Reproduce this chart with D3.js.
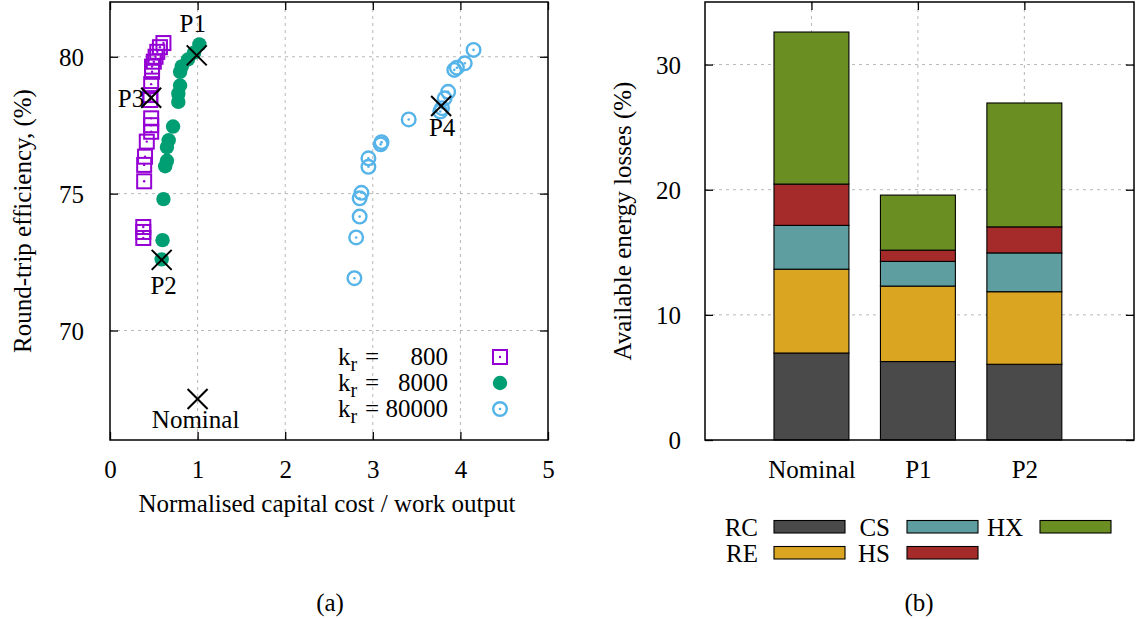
<!DOCTYPE html>
<html><head><meta charset="utf-8">
<script src="https://cdn.jsdelivr.net/npm/d3@7"></script>
<style>
html,body{margin:0;padding:0;background:#fff;}
svg text{font-family:"Liberation Serif","Times New Roman",serif !important;fill:#000;}
</style></head>
<body>
<svg id="fig" width="1138" height="619" font-family="Liberation Serif"></svg>
<script>
// ---------- DATA (a) ----------
const kr800 = [[0.61,80.5],[0.57,80.35],[0.54,80.18],[0.52,80.0],[0.50,79.82],[0.48,79.64],[0.48,79.45],[0.47,79.0],[0.46,78.6],[0.46,78.42],[0.47,77.75],[0.47,77.5],[0.47,77.26],[0.42,76.9],[0.40,76.35],[0.39,76.05],[0.39,75.45],[0.38,73.78],[0.38,73.6],[0.38,73.38]];
const kr8000 = [[1.02,80.45],[0.96,80.15],[0.89,79.9],[0.82,79.65],[0.80,79.45],[0.80,78.95],[0.78,78.65],[0.78,78.35],[0.72,77.45],[0.67,76.95],[0.65,76.7],[0.65,76.2],[0.63,76.0],[0.61,74.8],[0.60,73.3],[0.59,72.6]];
const kr80000 = [[4.15,80.25],[4.05,79.76],[3.96,79.6],[3.93,79.52],[3.86,78.72],[3.82,78.48],[3.79,78.12],[3.77,78.0],[3.41,77.71],[3.10,76.88],[3.09,76.8],[2.95,76.29],[2.95,75.98],[2.87,75.03],[2.85,74.83],[2.85,74.16],[2.81,73.40],[2.79,71.91]];
const special = [
  {name:"P1", x:0.99, y:80.05},
  {name:"P2", x:0.59, y:72.58},
  {name:"P3", x:0.47, y:78.5},
  {name:"P4", x:3.78, y:78.2},
  {name:"Nominal", x:1.0, y:67.5}
];
const xTicksA = [0,1,2,3,4,5];
const yTicksA = [70,75,80];
const legendA = [
  {label:"800", key:"kr800"},
  {label:"8000", key:"kr8000"},
  {label:"80000", key:"kr80000"}
];
const colA = {kr800:"#9400d3", kr8000:"#009e73", kr80000:"#56b4e9"};

// ---------- DATA (b) ----------
const categories = ["Nominal","P1","P2"];
const components = ["RC","RE","CS","HS","HX"];
const RC = [6.95, 6.27, 6.05];
const RE = [6.70, 6.03, 5.80];
const CS = [3.50, 1.97, 3.10];
const HS = [3.30, 0.90, 2.08];
const HX = [12.15, 4.40, 9.90];
const yTicksB = [0,10,20,30];
const colB = {RC:"#4a4a4a", RE:"#daa520", CS:"#5f9ea0", HS:"#a52a2a", HX:"#6b8e23"};

const svg = d3.select("#fig");
const FS = 25;
const SERIF = "Liberation Serif";
const gridStyle = s => s.attr("stroke","#b8b8b8").attr("stroke-width",1).attr("stroke-dasharray","3,4");
const styleAxis = g => {
  g.attr("font-family",SERIF).attr("font-size",FS);
  g.select(".domain").remove();
  g.selectAll("line").attr("stroke","#000").attr("stroke-width",1.3);
  g.selectAll("text").attr("font-size",FS).style("font-family",SERIF).attr("fill","#000");
};

// ================= Panel (a) =================
const A = {l:110, r:548, t:2, b:440};
const xA = d3.scaleLinear().domain([0,5]).range([A.l,A.r]);
const yA = d3.scaleLinear().domain([66,82]).range([A.b,A.t]);
const ga = svg.append("g");

// grid
ga.selectAll("line.gx").data(xTicksA.filter(d=>d>0&&d<5)).join("line")
  .attr("x1",d=>xA(d)).attr("x2",d=>xA(d)).attr("y1",A.t).attr("y2",A.b).call(gridStyle);
ga.selectAll("line.gy").data(yTicksA).join("line")
  .attr("x1",A.l).attr("x2",A.r).attr("y1",d=>yA(d)).attr("y2",d=>yA(d)).call(gridStyle);

// axes (inward ticks, mirrored)
const tk = 8;
ga.append("g").attr("transform",`translate(0,${A.b})`)
  .call(d3.axisBottom(xA).tickValues(xTicksA).tickSize(-tk).tickPadding(tk+12).tickFormat(d3.format("d")))
  .call(styleAxis);
ga.append("g").attr("transform",`translate(0,${A.t})`)
  .call(d3.axisTop(xA).tickValues(xTicksA).tickSize(-tk).tickFormat(""))
  .call(styleAxis);
ga.append("g").attr("transform",`translate(${A.l},0)`)
  .call(d3.axisLeft(yA).tickValues(yTicksA).tickSize(-tk).tickPadding(tk+18).tickFormat(d3.format("d")))
  .call(styleAxis).call(g=>g.selectAll("text").attr("dy","0.35em"));
ga.append("g").attr("transform",`translate(${A.r},0)`)
  .call(d3.axisRight(yA).tickValues(yTicksA).tickSize(-tk).tickFormat(""))
  .call(styleAxis);

// marker drawers
function drawSquare(g, x, y, c){
  g.append("rect").attr("x",x-7).attr("y",y-7).attr("width",14).attr("height",14)
    .attr("fill","none").attr("stroke",c).attr("stroke-width",2);
  g.append("circle").attr("cx",x).attr("cy",y).attr("r",1.2).attr("fill",c);
}
function drawDot(g, x, y, c){
  g.append("circle").attr("cx",x).attr("cy",y).attr("r",7.2).attr("fill",c);
}
function drawRing(g, x, y, c){
  g.append("circle").attr("cx",x).attr("cy",y).attr("r",6.8).attr("fill","none").attr("stroke",c).attr("stroke-width",2.4);
  g.append("circle").attr("cx",x).attr("cy",y).attr("r",1.3).attr("fill",c);
}
const drawers = {kr800:drawSquare, kr8000:drawDot, kr80000:drawRing};

const gm = ga.append("g");
kr800.forEach(d=>drawSquare(gm, xA(d[0]), yA(d[1]), colA.kr800));
kr8000.forEach(d=>drawDot(gm, xA(d[0]), yA(d[1]), colA.kr8000));
kr80000.forEach(d=>drawRing(gm, xA(d[0]), yA(d[1]), colA.kr80000));

// special X markers
const gx = ga.append("g");
special.forEach(p=>{
  const cx = xA(p.x), cy = yA(p.y), s = 10;
  gx.append("line").attr("x1",cx-s).attr("y1",cy-s).attr("x2",cx+s).attr("y2",cy+s).attr("stroke","#000").attr("stroke-width",2);
  gx.append("line").attr("x1",cx-s).attr("y1",cy+s).attr("x2",cx+s).attr("y2",cy-s).attr("stroke","#000").attr("stroke-width",2);
});
const lbl = {
  P1:{dx:-4, dy:-23, anchor:"middle"},
  P2:{dx:2, dy:34, anchor:"middle"},
  P3:{dx:-7, dy:9, anchor:"end"},
  P4:{dx:1, dy:30, anchor:"middle"},
  Nominal:{dx:-2, dy:29, anchor:"middle"}
};
special.forEach(p=>{
  const o = lbl[p.name];
  ga.append("text").attr("x",xA(p.x)+o.dx).attr("y",yA(p.y)+o.dy)
    .attr("text-anchor",o.anchor).attr("font-size",FS).text(p.name);
});

// legend (a)
legendA.forEach((d,i)=>{
  const by = 365 + i*26;
  const t = ga.append("text").attr("x",338).attr("y",by).attr("font-size",FS);
  t.append("tspan").text("k");
  t.append("tspan").attr("font-size",FS*0.8).attr("dy",6).text("r");
  ga.append("text").attr("x",365).attr("y",by).attr("font-size",FS).text("=");
  ga.append("text").attr("x",448).attr("y",by).attr("text-anchor","end").attr("font-size",FS).text(d.label);
  drawers[d.key](ga, 500, by-8, colA[d.key]);
});

// frame
ga.append("rect").attr("x",A.l).attr("y",A.t).attr("width",A.r-A.l).attr("height",A.b-A.t)
  .attr("fill","none").attr("stroke","#000").attr("stroke-width",1.5);

// titles
ga.append("text").attr("x",(A.l+A.r)/2-2).attr("y",512).attr("text-anchor","middle").attr("font-size",FS)
  .text("Normalised capital cost / work output");
ga.append("text").attr("transform",`translate(22,221) rotate(-90)`).attr("text-anchor","middle")
  .attr("dy","0.35em").attr("font-size",FS).text("Round-trip efficiency, (%)");
ga.append("text").attr("x",330).attr("y",611).attr("text-anchor","middle").attr("font-size",FS).text("(a)");

// ================= Panel (b) =================
const B = {l:705, r:1134, t:2, b:440};
const xB = d3.scaleLinear().domain([-1,3.03]).range([B.l,B.r]);
const yB = d3.scaleLinear().domain([0,35]).range([B.b,B.t]);
const gb = svg.append("g");

gb.selectAll("line.gy").data(yTicksB.filter(d=>d>0)).join("line")
  .attr("x1",B.l).attr("x2",B.r).attr("y1",d=>yB(d)).attr("y2",d=>yB(d)).call(gridStyle);
gb.selectAll("line.gx").data(categories).join("line")
  .attr("x1",(d,i)=>xB(i)).attr("x2",(d,i)=>xB(i)).attr("y1",B.t).attr("y2",B.b).call(gridStyle);

// stacked bars
const vals = {RC, RE, CS, HS, HX};
const table = categories.map((c,i)=>{const o={cat:c, idx:i}; components.forEach(k=>o[k]=vals[k][i]); return o;});
const stack = d3.stack().keys(components)(table);
const bw = 0.352;
gb.selectAll("g.layer").data(stack).join("g").attr("fill",d=>colB[d.key])
  .selectAll("rect").data(d=>d).join("rect")
  .attr("x",d=>xB(d.data.idx-bw)).attr("width",d=>xB(d.data.idx+bw)-xB(d.data.idx-bw))
  .attr("y",d=>yB(d[1])).attr("height",d=>yB(d[0])-yB(d[1]))
  .attr("stroke","#000").attr("stroke-width",1.1);

gb.append("g").attr("transform",`translate(${B.l},0)`)
  .call(d3.axisLeft(yB).tickValues(yTicksB).tickSize(-tk).tickPadding(tk+16).tickFormat(d3.format("d")))
  .call(styleAxis).call(g=>g.selectAll("text").attr("dy","0.35em"));
gb.append("g").attr("transform",`translate(${B.r},0)`)
  .call(d3.axisRight(yB).tickValues(yTicksB).tickSize(-tk).tickFormat(""))
  .call(styleAxis);
gb.append("g").attr("transform",`translate(0,${B.t})`)
  .call(d3.axisTop(xB).tickValues([0,1,2]).tickSize(-tk).tickFormat(""))
  .call(styleAxis);
gb.append("g").attr("transform",`translate(0,${B.b})`)
  .call(d3.axisBottom(xB).tickValues([0,1,2]).tickSize(0).tickPadding(20).tickFormat(i=>categories[i]))
  .call(styleAxis);

gb.append("rect").attr("x",B.l).attr("y",B.t).attr("width",B.r-B.l).attr("height",B.b-B.t)
  .attr("fill","none").attr("stroke","#000").attr("stroke-width",1.5);

gb.append("text").attr("transform",`translate(622,221) rotate(-90)`).attr("text-anchor","middle")
  .attr("dy","0.35em").attr("font-size",FS).text("Available energy losses (%)");

// legend (b)
const legPos = {RC:[758,774,0], RE:[758,774,1], CS:[890,907,0], HS:[890,907,1], HX:[1023,1040,0]};
components.forEach(k=>{
  const [tx,bx,row] = legPos[k];
  const by = 536 + row*26;
  gb.append("text").attr("x",tx).attr("y",by).attr("text-anchor","end").attr("font-size",FS).text(k);
  gb.append("rect").attr("x",bx).attr("y",by-15.5).attr("width",71).attr("height",12.5)
    .attr("fill",colB[k]).attr("stroke","#000").attr("stroke-width",1.1);
});
gb.append("text").attr("x",919).attr("y",611).attr("text-anchor","middle").attr("font-size",FS).text("(b)");
</script>
</body></html>
